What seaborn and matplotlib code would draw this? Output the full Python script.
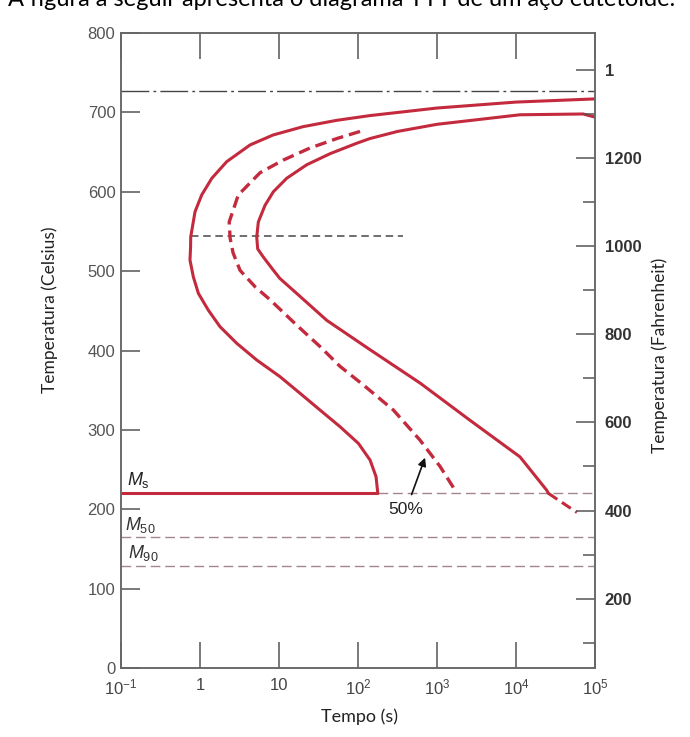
import numpy as np
import pandas as pd
import matplotlib.pyplot as plt
import seaborn as sns
from matplotlib.ticker import NullLocator

sns.set_style("white")
plt.rcParams['font.family'] = ['Liberation Sans', 'DejaVu Sans']
plt.rcParams['mathtext.fontset'] = 'custom'
plt.rcParams['mathtext.rm'] = 'Liberation Sans'
plt.rcParams['mathtext.it'] = 'Liberation Sans:italic'

# curva de inicio da transformacao (tempo em s, temperatura em C)
inicio_t = [100000, 10000, 1000, 142, 53.7, 20.1, 8.39, 4.30, 2.18, 1.41, 1.05, 0.865, 0.762,
            0.759, 0.746, 0.822, 0.953, 1.27, 1.79, 2.92, 5.22, 10.3, 18.5, 33.0, 59.2,
            101, 142, 169, 177, 178]
inicio_T = [717, 713, 705.5, 696, 690, 682, 671.5, 659, 638, 617, 596, 575, 543,
            530, 514, 493, 472, 451, 430, 409, 388, 367, 346, 325, 304,
            283, 262, 241, 222, 220]

# curva de fim da transformacao
fim_t = [100000, 70800, 11220, 1000, 316, 141, 95.5, 44.3, 22.4, 12.5, 8.47, 6.65, 5.47,
         5.22, 5.37, 6.3, 8.2, 10.2, 16.7, 40.2, 142, 610, 2620, 11220, 24430, 25700]
fim_T = [694, 698, 697, 685, 676, 667, 661, 648, 634, 617, 600, 583, 562,
         543, 528, 518, 503, 491, 472, 438, 401, 359, 312, 266, 224, 220]
fim_abaixo_t = [25700, 58900]
fim_abaixo_T = [220, 196]

# curva de 50%
meio_t = [106, 53.7, 24.5, 11.35, 5.75, 3.05, 2.34, 2.40, 2.62, 3.21,
          5.01, 7.69, 16.7, 33.0, 59.2, 117, 280, 610, 1091, 1690]
meio_T = [676, 667, 655, 640, 624, 596, 562, 542, 523, 501,
          480, 464, 432, 405, 380, 356.5, 325, 287, 254, 224]

# linhas horizontais
eutetoide_T = 727
cotovelo_T = 544
cotovelo_t = [0.76, 370]
Ms_T, M50_T, M90_T = 220, 165, 128
Ms_fim_t = 178

tempo_ticks = [0.1, 1, 10, 100, 1000, 10000, 100000]
tempo_labels = ['$10^{-1}$', '1', '10', '$10^2$', '$10^3$', '$10^4$', '$10^5$']
celsius_ticks = [0, 100, 200, 300, 400, 500, 600, 700, 800]
fahr_ticks = [200, 400, 600, 800, 1000, 1200, 1400]
fahr_labels = ['200', '400', '600', '800', '1000', '1200', '1']
fahr_minor = [100, 300, 500, 700, 900, 1100, 1300]

vermelho = '#c42a3d'
cinza_rosa = '#a3868c'

fig = plt.figure(figsize=(6.9, 7.37), dpi=100)
ax = fig.add_axes([0.1754, 0.0936, 0.687, 0.8616])
ax.set_xscale('log')

# linhas de referencia
ax.axhline(eutetoide_T, color='#444444', lw=1.0, dashes=(20, 3, 2, 3))
ax.hlines(cotovelo_T, cotovelo_t[0], cotovelo_t[1], color='#555555', lw=1.2, linestyle=(0, (4.5, 2.8)))
ax.hlines([Ms_T], [Ms_fim_t], [1e5], color=cinza_rosa, lw=1.0, linestyle=(0, (7, 3.5)))
ax.hlines([M50_T, M90_T], 0.1, 1e5, color=cinza_rosa, lw=1.0, linestyle=(0, (7, 3.5)))
ax.hlines(Ms_T, 0.1, Ms_fim_t, color=vermelho, lw=2.2)

curvas = pd.DataFrame({'t': inicio_t, 'T': inicio_T})
sns.lineplot(data=curvas, x='t', y='T', sort=False, estimator=None, color=vermelho, lw=2.2, ax=ax)
curvas = pd.DataFrame({'t': fim_t, 'T': fim_T})
sns.lineplot(data=curvas, x='t', y='T', sort=False, estimator=None, color=vermelho, lw=2.2, ax=ax)
curvas = pd.DataFrame({'t': fim_abaixo_t, 'T': fim_abaixo_T})
sns.lineplot(data=curvas, x='t', y='T', sort=False, estimator=None, color=vermelho, lw=2.2, ax=ax)
ax.lines[-1].set_dashes((3.5, 1.8))
curvas = pd.DataFrame({'t': meio_t, 'T': meio_T})
sns.lineplot(data=curvas, x='t', y='T', sort=False, estimator=None, color=vermelho, lw=2.4, ax=ax)
ax.lines[-1].set_dashes((3.5, 1.8))
for ln in ax.lines:
    ln.set_solid_joinstyle('round')
    ln.set_dash_joinstyle('round')

ax.set_xlim(0.1, 1e5)
ax.set_ylim(0, 800)
ax.set_xticks(tempo_ticks)
ax.set_xticklabels(tempo_labels)
ax.xaxis.set_minor_locator(NullLocator())
ax.set_yticks(celsius_ticks)
ax.tick_params(axis='x', which='major', direction='in', length=18.5, width=1.1, color='#555555',
               top=True, bottom=True, pad=7, labelsize=12, labelcolor='#444444')
ax.tick_params(axis='y', direction='in', length=14, width=1.1, color='#555555',
               left=True, right=False, pad=4, labelsize=12, labelcolor='#555555')
for s in ax.spines.values():
    s.set_color('#666666')
    s.set_linewidth(1.1)

ax.set_xlabel('Tempo (s)', family=['Lato', 'DejaVu Sans'], fontsize=13, color='#222222', va='center')
ax.xaxis.set_label_coords(0.504, -0.077)
ax.set_ylabel('Temperatura (Celsius)', family=['Lato', 'DejaVu Sans'], fontsize=12.5, color='#222222', va='center')
ax.yaxis.set_label_coords(-0.150, 0.564)

ax2 = ax.twinx()
ax2.set_ylim(43, 1483)
ax2.set_yticks(fahr_ticks)
ax2.set_yticklabels(fahr_labels, fontweight='bold')
ax2.set_yticks(fahr_minor, minor=True)
ax2.tick_params(axis='y', which='major', direction='in', length=14, width=1.1, color='#555555',
                pad=7, labelsize=12, labelcolor='#333333')
ax2.tick_params(axis='y', which='minor', direction='in', length=8.5, width=1.1, color='#555555')
for s in ax2.spines.values():
    s.set_color('#666666')
    s.set_linewidth(1.1)
ax2.set_ylabel('Temperatura (Fahrenheit)', family=['Lato', 'DejaVu Sans'], fontsize=12.5, color='#222222',
               va='center')
ax2.yaxis.set_label_coords(1.137, 0.493)

# rotulos das linhas de martensita
ax.text(0.119, 231, r'$M_\mathrm{s}$', fontsize=13, va='baseline', color='#222222')
ax.text(0.112, 174, r'$M_\mathrm{50}$', fontsize=13, va='baseline', color='#333333')
ax.text(0.123, 139, r'$M_\mathrm{90}$', fontsize=13, va='baseline', color='#333333')

ax.annotate('50%', xy=(705, 265), xytext=(407, 200), ha='center', va='center', fontsize=12.5,
            color='#222222',
            arrowprops=dict(arrowstyle='-|>', color='#111111', lw=1.2, mutation_scale=12,
                            shrinkA=3, shrinkB=0))

# frase cortada no topo
titulo = fig.text(8 / 690, 1 - 6 / 737, 'A figura a seguir apresenta o diagrama TTT de um aço eutetoide.',
                  ha='left', va='baseline', fontsize=16, family=['Lato', 'DejaVu Sans'], color='black')
fig.canvas.draw()
w = titulo.get_window_extent().width
titulo.set_fontsize(16 * 674 / w)

fig.savefig('out.png', dpi=100)
